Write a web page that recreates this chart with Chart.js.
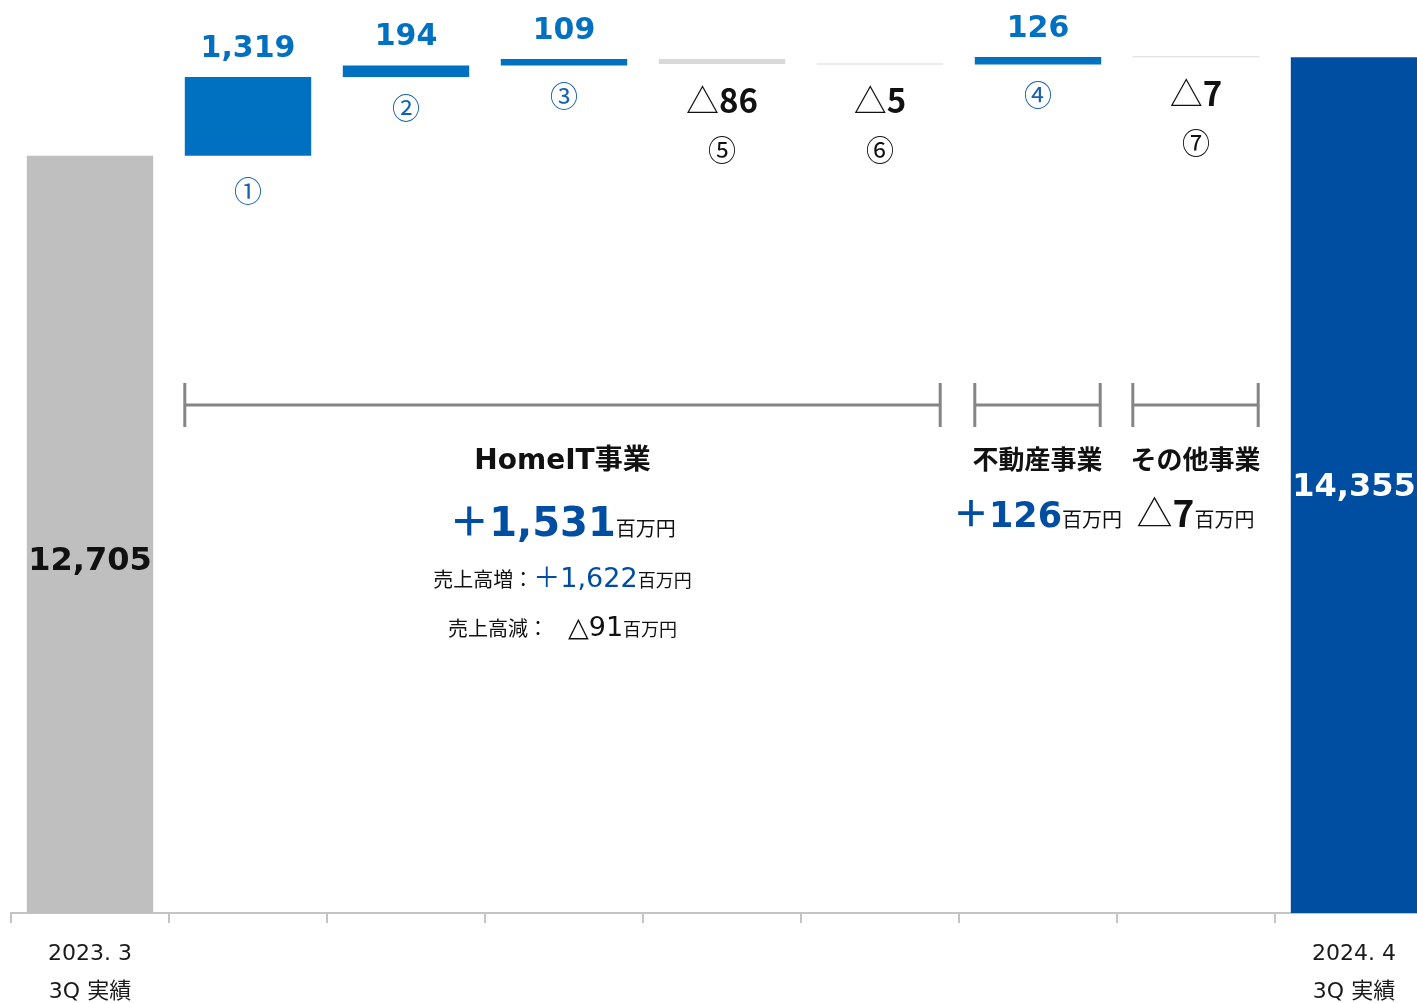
<!DOCTYPE html>
<html lang="ja">
<head>
<meta charset="utf-8">
<title>営業利益 増減</title>
<script src="https://cdn.jsdelivr.net/npm/chart.js@4"></script>
<style>
  html, body { margin: 0; padding: 0; background: #fff; overflow: hidden; }
  #wrap { position: relative; width: 1440px; height: 1033px; }
</style>
</head>
<body>
<div id="wrap"><canvas id="bridge"></canvas></div>
<script>
// values (百万円)
const categories = [['2023. 3', '3Q 実績'], '', '', '', '', '', '', '', ['2024. 4', '3Q 実績']];
const startValue = 12705;
const changeValues = [1319, 194, 109, -86, -5, 126, -7];
const endValue = 14355;
const changeMarks = ['①', '②', '③', '⑤', '⑥', '④', '⑦'];
// business groups over the change bars (indexes into changeValues)
const groupNames = ['HomeIT事業', '不動産事業', 'その他事業'];
const groupFrom = [0, 5, 6];
const groupTo = [4, 5, 6];
const yMax = 15300;

const LATIN = "'DejaVu Sans', 'Noto Sans CJK JP', sans-serif";
const CJK = "'Noto Sans CJK JP', sans-serif";
const BLUE = '#0070C0';
const NAVY = '#004EA2';

// floating ranges for the waterfall
let running = startValue;
const ranges = [[0, startValue]];
changeValues.forEach(v => {
  ranges.push([running, running + v]);
  running += v;
});
ranges.push([0, endValue]);

const barColors = ranges.map((r, i) => {
  if (i === 0) return '#BFBFBF';
  if (i === ranges.length - 1) return NAVY;
  return changeValues[i - 1] >= 0 ? BLUE : '#D9D9D9';
});

function fmt(n) {
  return Math.abs(n).toLocaleString('en-US');
}

// draw a row of text pieces on one baseline, centred on cx
function drawRuns(ctx, runs, cx, baseline) {
  let total = 0;
  runs.forEach(r => {
    if (r.gap) { total += r.gap; return; }
    ctx.font = r.font;
    r.w = ctx.measureText(r.text).width;
    total += r.w;
  });
  let x = cx - total / 2;
  ctx.textAlign = 'left';
  ctx.textBaseline = 'alphabetic';
  runs.forEach(r => {
    if (r.gap) { x += r.gap; return; }
    ctx.font = r.font;
    ctx.fillStyle = r.color || '#111';
    ctx.fillText(r.text, x, baseline);
    x += r.w;
  });
}

const labelPlugin = {
  id: 'bridgeLabels',
  afterDatasetsDraw(chart) {
    const ctx = chart.ctx;
    const bars = chart.getDatasetMeta(0).data;
    ctx.save();

    // start / end totals inside the bars
    const first = bars[0];
    const last = bars[bars.length - 1];
    ctx.textAlign = 'center';
    ctx.textBaseline = 'middle';
    ctx.font = 'bold 32px ' + LATIN;
    ctx.fillStyle = '#111';
    ctx.fillText(fmt(startValue), first.x, (first.y + first.base) / 2 + 27);
    ctx.fillStyle = '#fff';
    ctx.fillText(fmt(endValue), last.x, (last.y + last.base) / 2 + 3);

    // change labels
    changeValues.forEach((v, i) => {
      const b = bars[i + 1];
      const top = Math.min(b.y, b.base);
      const bottom = Math.max(b.y, b.base);
      ctx.textAlign = 'center';
      if (v >= 0) {
        ctx.textBaseline = 'alphabetic';
        ctx.font = 'bold 30px ' + LATIN;
        ctx.fillStyle = BLUE;
        ctx.fillText(fmt(v), b.x, top - 20);
        ctx.textBaseline = 'middle';
        ctx.font = '28px ' + CJK;
        ctx.fillStyle = '#1560B0';
        ctx.fillText(changeMarks[i], b.x, bottom + (i === 0 ? 36 : 31));
      } else {
        drawRuns(ctx, [
          { text: '△', font: '33px ' + CJK, color: '#111' },
          { text: fmt(v), font: 'bold 33px ' + CJK, color: '#111' }
        ], b.x, bottom + 49);
        ctx.textAlign = 'center';
        ctx.textBaseline = 'middle';
        ctx.font = '28px ' + CJK;
        ctx.fillStyle = '#111';
        ctx.fillText(changeMarks[i], b.x, bottom + 86);
      }
    });

    // group brackets and totals
    const bracketY = 405;
    groupNames.forEach((name, g) => {
      const a = bars[groupFrom[g] + 1];
      const z = bars[groupTo[g] + 1];
      const x0 = a.x - a.width / 2;
      const x1 = z.x + z.width / 2 - (g === 0 ? 3 : 1);
      ctx.strokeStyle = '#858585';
      ctx.lineWidth = 3;
      ctx.beginPath();
      ctx.moveTo(x0, bracketY);
      ctx.lineTo(x1, bracketY);
      ctx.moveTo(x0, bracketY - 22);
      ctx.lineTo(x0, bracketY + 22);
      ctx.moveTo(x1, bracketY - 22);
      ctx.lineTo(x1, bracketY + 22);
      ctx.stroke();

      const cx = (x0 + x1) / 2;
      const sum = changeValues.slice(groupFrom[g], groupTo[g] + 1).reduce((s, v) => s + v, 0);

      if (g === 0) {
        drawRuns(ctx, [{ text: name, font: 'bold 28px ' + LATIN, color: '#111' }], cx, 469);
        drawRuns(ctx, [
          { text: '＋', font: 'bold 40px ' + CJK, color: NAVY },
          { text: fmt(sum), font: 'bold 40px ' + LATIN, color: NAVY },
          { text: '百万円', font: '20px ' + CJK, color: '#111' }
        ], cx, 536);
        const ups = changeValues.slice(groupFrom[g], groupTo[g] + 1).filter(v => v > 0).reduce((s, v) => s + v, 0);
        const downs = changeValues.slice(groupFrom[g], groupTo[g] + 1).filter(v => v < 0).reduce((s, v) => s + v, 0);
        drawRuns(ctx, [
          { text: '売上高増：', font: '20px ' + CJK, color: '#111' },
          { text: '＋' + fmt(ups), font: '27px ' + LATIN, color: NAVY },
          { text: '百万円', font: '18px ' + CJK, color: '#111' }
        ], cx, 587);
        drawRuns(ctx, [
          { text: '売上高減：', font: '20px ' + CJK, color: '#111' },
          { gap: 20 },
          { text: '△' + fmt(downs), font: '27px ' + LATIN, color: '#111' },
          { text: '百万円', font: '18px ' + CJK, color: '#111' }
        ], cx, 636);
      } else {
        drawRuns(ctx, [{ text: name, font: 'bold 26px ' + CJK, color: '#111' }], cx, 469);
        const runs = sum >= 0
          ? [{ text: '＋', font: 'bold 36px ' + CJK, color: NAVY },
             { text: fmt(sum), font: 'bold 35px ' + LATIN, color: NAVY }]
          : [{ text: '△', font: '36px ' + CJK, color: '#111' },
             { text: fmt(sum), font: 'bold 37px ' + CJK, color: '#111' }];
        runs.push({ text: '百万円', font: '20px ' + CJK, color: '#111' });
        drawRuns(ctx, runs, cx, 527);
      }
    });

    ctx.restore();
  }
};

new Chart(document.getElementById('bridge'), {
  type: 'bar',
  data: {
    labels: categories,
    datasets: [{
      data: ranges,
      backgroundColor: barColors,
      borderWidth: 0,
      barPercentage: 0.8,
      categoryPercentage: 1.0,
      minBarLength: 1
    }]
  },
  options: {
    responsive: true,
    maintainAspectRatio: false,
    animation: false,
    devicePixelRatio: 1,
    layout: { padding: { left: 11, right: 7, top: 1, bottom: 9 } },
    plugins: {
      legend: { display: false },
      tooltip: { enabled: false }
    },
    scales: {
      y: { display: false, min: 0, max: yMax },
      x: {
        grid: {
          offset: true,
          drawOnChartArea: false,
          drawTicks: true,
          tickLength: 10,
          color: '#C4C4C4',
          lineWidth: 2
        },
        border: { display: true, color: '#C4C4C4', width: 2 },
        ticks: {
          autoSkip: false,
          maxRotation: 0,
          padding: 12,
          color: '#1a1a1a',
          font: { family: LATIN, size: 22, lineHeight: 1.75 }
        }
      }
    }
  },
  plugins: [labelPlugin]
});
</script>
</body>
</html>
